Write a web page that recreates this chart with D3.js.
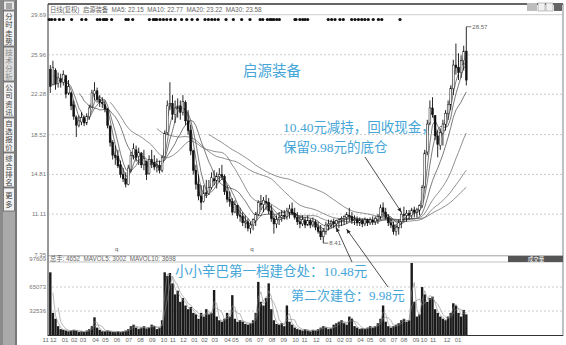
<!DOCTYPE html>
<html>
<head>
<meta charset="utf-8">
<script src="https://cdn.jsdelivr.net/npm/d3@7/dist/d3.min.js"></script>
<style>
  body { margin: 0; background: #fff; }
  svg { display: block; }
  text { font-family: "Liberation Sans", "Noto Sans CJK SC", sans-serif; }
  text.note { font-family: "Liberation Serif", "Noto Sans CJK SC", serif; }
</style>
</head>
<body>
<svg id="chart" width="566" height="345"></svg>
<script>
// ---- weekly quotes (price in yuan, volume in lots) ----
const openP = [
  24.6,23.2,24.5,23.3,23.7,23.4,24.0,22.4,22.4,21.3,
  20.1,19.4,19.7,20.1,19.6,20.2,21.1,22.3,22.6,21.8,
  21.5,21.3,20.9,19.3,17.8,16.6,16.5,15.7,14.8,14.4,
  13.9,15.3,16.6,17.1,16.5,16.8,15.7,16.0,14.9,16.2,
  15.9,15.5,15.6,15.2,16.5,18.7,21.3,21.4,20.4,21.0,
  21.2,20.6,21.5,19.8,18.9,17.0,15.2,13.9,12.8,12.3,
  13.1,13.0,13.6,14.4,14.2,14.6,14.8,14.6,13.2,12.5,
  12.3,11.3,11.9,11.0,10.9,10.3,10.4,9.8,10.1,10.5,
  11.1,12.1,12.0,12.3,12.2,11.4,10.7,10.2,10.6,10.8,
  11.0,10.9,11.3,11.6,11.2,10.8,10.4,10.2,10.5,10.1,
  10.5,10.1,10.4,9.9,9.5,9.0,9.5,10.1,10.2,10.4,
  10.2,10.4,10.6,10.7,10.8,11.0,10.9,10.5,10.6,10.3,
  10.5,10.2,10.6,10.3,10.5,10.4,10.6,10.9,11.7,11.3,
  10.8,10.3,10.1,9.5,9.8,10.4,11.1,11.0,11.2,11.0,
  11.5,11.3,11.5,11.9,13.7,16.9,19.6,21.0,20.3,18.4,
  17.5,18.6,19.5,20.5,21.3,22.8,25.0,24.8,24.3,25.4,
  26.3];
const highP = [
  25.0,25.4,24.7,24.3,24.2,24.5,24.1,23.6,22.5,21.7,
  20.3,20.3,20.6,20.3,20.5,21.3,22.7,23.4,22.9,22.2,
  22.0,21.7,21.0,19.4,18.0,17.5,17.1,16.1,15.4,15.0,
  15.7,16.9,17.7,17.5,17.3,16.9,17.1,16.1,16.6,17.1,
  16.6,16.3,16.1,16.6,18.9,21.7,23.4,22.2,21.7,21.9,
  21.7,22.2,21.7,20.8,19.4,17.1,15.7,14.8,13.8,13.8,
  14.3,14.3,15.0,15.2,15.0,15.4,15.7,14.8,13.8,13.2,
  12.6,12.4,12.0,11.7,11.3,11.0,10.7,10.4,10.7,11.3,
  12.4,12.9,12.7,12.9,12.6,12.0,11.0,11.0,11.3,11.5,
  11.5,11.7,12.0,12.2,11.7,11.3,10.9,11.0,10.8,11.0,
  10.7,10.8,10.6,10.4,10.1,9.8,10.4,10.6,10.6,10.7,
  10.6,10.7,10.9,11.0,11.3,11.7,11.3,11.0,10.9,10.8,
  10.7,10.8,10.7,10.8,10.9,10.9,11.1,12.0,12.2,11.7,
  11.1,10.7,10.4,10.2,10.6,11.3,11.8,11.5,11.5,11.7,
  11.8,11.7,12.0,13.8,17.1,19.9,21.7,22.0,20.3,18.9,
  19.1,19.9,20.8,21.7,23.1,25.5,27.0,26.1,25.9,26.8,
  28.57];
const lowP = [
  22.4,23.1,22.7,22.9,22.9,23.1,21.9,22.2,20.8,19.9,
  18.3,19.2,19.4,19.3,19.4,19.9,21.0,21.7,21.5,21.1,
  21.0,20.6,19.1,17.4,16.2,15.7,15.4,14.5,14.1,13.6,
  13.8,15.0,16.2,16.0,15.7,15.4,15.2,14.3,14.8,15.4,
  15.2,15.0,14.9,15.0,16.5,18.5,20.8,19.9,19.6,20.1,
  19.9,20.3,19.4,18.5,16.6,14.8,13.4,12.4,11.5,12.2,
  12.6,12.9,13.4,13.8,13.5,14.1,14.3,12.9,12.2,11.8,
  11.0,11.2,10.7,10.4,10.0,9.8,9.5,9.3,9.6,10.0,
  11.0,11.5,11.3,11.5,11.1,10.4,9.3,9.8,10.1,10.4,
  10.6,10.6,10.7,11.0,10.6,10.1,9.8,10.0,9.8,10.0,
  9.8,9.9,9.6,9.3,8.7,8.41,9.2,9.6,9.8,9.8,
  9.7,9.8,10.0,10.1,10.2,10.4,10.2,10.1,10.0,10.0,
  9.9,10.0,10.0,10.1,10.1,10.1,10.2,10.6,10.9,10.6,
  10.0,9.8,9.2,9.1,9.2,9.8,10.4,10.4,10.6,10.7,
  10.8,10.8,11.0,11.7,13.5,16.6,19.4,20.1,18.0,16.4,
  17.1,17.5,18.9,19.9,20.8,22.2,24.1,23.6,23.8,24.5,
  23.1];
const closeP = [
  23.0,24.8,23.2,23.8,23.4,24.1,22.3,23.0,21.2,20.2,
  19.4,19.8,20.1,19.6,20.2,21.0,22.4,22.6,21.8,21.5,
  21.4,20.9,19.4,17.8,16.6,16.4,15.6,14.8,14.4,13.9,
  15.4,16.6,17.2,16.4,16.9,15.7,16.3,14.8,16.2,15.9,
  15.5,15.6,15.2,16.4,18.6,21.2,21.4,20.4,21.0,21.2,
  20.6,21.6,19.8,18.9,17.0,15.2,13.9,12.8,12.2,13.1,
  13.0,13.6,14.5,14.2,14.6,14.8,14.6,13.2,12.5,12.3,
  11.3,12.0,11.0,10.9,10.3,10.4,9.8,10.1,10.6,11.1,
  12.2,12.0,12.4,12.2,11.4,10.7,10.2,10.6,10.8,11.0,
  10.9,11.4,11.6,11.2,10.8,10.4,10.2,10.6,10.1,10.5,
  10.1,10.4,9.9,9.5,9.0,9.5,10.1,10.2,10.4,10.2,
  10.5,10.6,10.7,10.9,11.1,10.9,10.5,10.6,10.3,10.5,
  10.2,10.6,10.3,10.6,10.4,10.7,10.9,11.7,11.3,10.8,
  10.3,10.1,9.5,9.9,10.4,11.1,11.0,11.2,11.0,11.5,
  11.3,11.5,11.9,13.6,16.8,19.5,21.0,20.4,18.4,17.6,
  18.7,19.5,20.5,21.3,22.8,25.0,24.8,24.3,25.4,26.3,
  23.6];
const volume = [
  85000,30000,22000,12000,8000,7000,6000,5000,6000,7000,
  6000,4000,5000,4000,6000,8000,12000,24000,10000,7000,
  5000,5000,6000,5000,4000,4000,5000,4000,5000,6000,
  8000,12000,14000,10000,8000,10000,12000,9000,10000,14000,
  12000,8000,10000,20000,85000,80000,84000,70000,55000,60000,
  45000,50000,40000,35000,38000,30000,28000,22000,30000,25000,
  35000,28000,30000,61000,25000,20000,18000,22000,30000,25000,
  54000,22000,18000,20000,18000,15000,14000,16000,20000,30000,
  72000,45000,40000,50000,70000,35000,20000,15000,14000,16000,
  12000,40000,18000,14000,10000,8000,7000,6000,8000,6000,
  5000,7000,6000,8000,10000,12000,10000,8000,9000,14000,
  16000,18000,20000,16000,14000,25000,22000,12000,10000,8000,
  9000,8000,10000,12000,10000,12000,16000,22000,40000,18000,
  12000,10000,12000,14000,16000,20000,22000,18000,20000,97609,
  45000,25000,28000,65000,55000,45000,50000,52000,35000,30000,
  25000,22000,20000,25000,30000,43000,40000,30000,25000,34000,
  28000];

// ---- axes ----
const priceTicks = [29.69, 25.96, 22.28, 18.52, 14.81, 11.11, 7.35];
const volTicks = [97609, 65073, 32536];
const monthLabels = ["11","12","01","02","03","04","05","06","07","08","09","10","11","12",
  "01","02","03","04","05","06","07","08","09","10","11","12",
  "01","02","03","04","05","06","07","08","09","10","11","12","01"];
const monthWeeks = [-1.3,1.65,6.15,9.7,13.1,17.9,21.7,26.2,30.7,35.2,39.7,44.2,47.6,51.7,
  56.0,59.8,63.8,68.7,71.7,76.8,81.3,85.8,90.3,94.8,98.3,102.8,
  107.6,112.1,115.3,119.8,123.5,128.3,132.7,136.5,141.2,144.2,147.7,153.1,157.3];

// information-mine markers along the top (week position)
const eventWeeks = [0.1,1.0,2.3,4.0,5.5,8.7,12.6,14.2,18.6,19.6,20.9,21.5,22.2,24.1,29.6,30.5,32.2,
  38.6,40.1,40.8,41.4,42.7,44.0,45.3,46.8,48.5,51.0,53.0,55.0,57.1,60.0,61.3,62.6,63.8,65.1,
  68.1,70.9,74.1,77.3,81.2,82.2,84.0,85.0,85.7,86.5,87.6,88.6,94.6,95.0,96.5,97.6,98.5,99.5,
  107.4,108.7,110.0,111.9,113.2,116.4,117.7,119.0,120.3,121.5,122.8,124.7,126.7,128.0,135.0];
// ex-rights markers
const exRightWeeks = [26.0, 78.0];

// moving-average windows (in bars)
const maWindows = [2, 4, 6, 12, 24, 42, 62];
const volMaWindows = [2, 4];

// header texts
const priceHeader = "日线(复权)  启源装备  MA5: 22.15  MA10: 22.77  MA20: 23.22  MA30: 23.58";
const volHeader = "总手: 4652  MAVOL5: 3002  MAVOL10: 3698";
const sideTabs = ["分时走势", "技术分析", "公司资讯", "自选报价", "综合排名", "更多"];

// annotations
const stockName = "启源装备";
const noteSell = ["10.40元减持，回收现金，", "保留9.98元的底仓"];
const noteBuy1 = "小小辛巴第一档建仓处：10.48元";
const noteBuy2 = "第二次建仓：9.98元";
const arrows = [
  { bar: 110, price: 9.85, tail: [352, 262] },
  { bar: 114, price: 9.7,  tail: [388, 287] },
  { bar: 135, price: 11.3, tail: [365, 157] }
];

// ---------------------------------------------------------------
const svg = d3.select("#chart");
const W = 566, H = 345;
const left = 48, right = 563;
const N = closeP.length;
const noteColor = "#46a6d8";

svg.append("rect").attr("width", W).attr("height", H).attr("fill", "#fff");

const x = d3.scaleLinear().domain([0, N]).range([49, 49 + 2.6 * N]);
const y = d3.scaleLinear().domain([7.35, 29.69]).range([254.5, 14.7]);
const yv = d3.scaleLinear().domain([0, 97609]).range([335, 263]);

// ---- side tab bar ----
const side = svg.append("g");
side.append("rect").attr("x", 0).attr("y", 0).attr("width", 17).attr("height", H).attr("fill", "#8a8a8a");
side.append("rect").attr("x", 3).attr("y", 0).attr("width", 12).attr("height", H).attr("fill", "#a9a9a9");
side.append("rect").attr("x", 3.5).attr("y", 1).attr("width", 11).attr("height", 9)
  .attr("fill", "#e6e6e6").attr("stroke", "#555").attr("stroke-width", 0.6);
side.append("path").attr("d", "M6,4h6M6,6h6M6,8h6").attr("stroke", "#444").attr("stroke-width", 0.8);
const tabTops = [11, 47, 82, 118, 153, 188];
const tabBots = [46, 81, 117, 152, 187, 211];
sideTabs.forEach((t, k) => {
  const y0 = tabTops[k], y1 = tabBots[k];
  side.append("rect").attr("x", 3.5).attr("y", y0).attr("width", 11).attr("height", y1 - y0)
    .attr("fill", k === 1 ? "#dedede" : "#f3f3f3").attr("stroke", "#555").attr("stroke-width", 0.7);
  const chars = Array.from(t);
  const step = 8.2;
  const start = y0 + (y1 - y0 - chars.length * step) / 2 + 7;
  chars.forEach((c, j) => {
    side.append("text").attr("x", 9).attr("y", start + j * step).attr("text-anchor", "middle")
      .attr("font-size", 7.4).attr("fill", k === 1 ? "#888" : "#444").text(c);
  });
});
side.append("line").attr("x1", 16).attr("x2", 16).attr("y1", 0).attr("y2", H)
  .attr("stroke", "#666").attr("stroke-width", 1);

// ---- frame ----
const frame = svg.append("g");
frame.append("line").attr("x1", left).attr("x2", right).attr("y1", 4).attr("y2", 4)
  .attr("stroke", "#333").attr("stroke-width", 1.4);
frame.append("line").attr("x1", left).attr("x2", left).attr("y1", 4).attr("y2", 336)
  .attr("stroke", "#333").attr("stroke-width", 1);
frame.append("line").attr("x1", right).attr("x2", right).attr("y1", 4).attr("y2", 336)
  .attr("stroke", "#666").attr("stroke-width", 0.8);
frame.append("line").attr("x1", left).attr("x2", right).attr("y1", 255.8).attr("y2", 255.8)
  .attr("stroke", "#777").attr("stroke-width", 0.7);
frame.append("line").attr("x1", left).attr("x2", right).attr("y1", 262).attr("y2", 262)
  .attr("stroke", "#999").attr("stroke-width", 0.6);
frame.append("line").attr("x1", left).attr("x2", right).attr("y1", 335.5).attr("y2", 335.5)
  .attr("stroke", "#333").attr("stroke-width", 1);

// buttons at the top-right
const btn = svg.append("g");
btn.append("rect").attr("x", 527).attr("y", 3).attr("width", 10).attr("height", 8).attr("fill", "#bdbdbd");
btn.append("rect").attr("x", 538).attr("y", 3).attr("width", 7).attr("height", 8).attr("fill", "#f0f0f0").attr("stroke", "#888").attr("stroke-width", 0.5);
btn.append("rect").attr("x", 546).attr("y", 3).attr("width", 7).attr("height", 8).attr("fill", "#f0f0f0").attr("stroke", "#888").attr("stroke-width", 0.5);
btn.append("rect").attr("x", 554).attr("y", 3).attr("width", 8).attr("height", 8).attr("fill", "#666");

// ---- price grid & labels ----
const grid = svg.append("g");
priceTicks.forEach(v => {
  if (v !== 7.35) {
    grid.append("line").attr("x1", left).attr("x2", right).attr("y1", y(v)).attr("y2", y(v))
      .attr("stroke", "#aaa").attr("stroke-width", 0.6).attr("stroke-dasharray", v === 29.69 ? null : "2,2");
  }
  grid.append("text").attr("x", 46).attr("y", y(v) + 2).attr("text-anchor", "end")
    .attr("font-size", 6).attr("fill", "#777").text(v.toFixed(2));
});
volTicks.forEach(v => {
  if (v !== 97609) {
    grid.append("line").attr("x1", left).attr("x2", right).attr("y1", yv(v)).attr("y2", yv(v))
      .attr("stroke", "#aaa").attr("stroke-width", 0.6).attr("stroke-dasharray", "2,2");
  }
  grid.append("text").attr("x", 46).attr("y", v === 97609 ? 261 : yv(v) + 2).attr("text-anchor", "end")
    .attr("font-size", 6).attr("fill", "#777").text(v);
});

// month labels
monthLabels.forEach((m, k) => {
  grid.append("text").attr("x", x(monthWeeks[k])).attr("y", 341.5).attr("text-anchor", "middle")
    .attr("font-size", 6).attr("fill", "#666").text(m);
});

// headers
svg.append("text").attr("x", 50).attr("y", 11.5).attr("font-size", 6.3).attr("fill", "#666")
  .style("white-space", "pre").text(priceHeader);
svg.append("text").attr("x", 50).attr("y", 260.8).attr("font-size", 6.3).attr("fill", "#666")
  .style("white-space", "pre").text(volHeader);
svg.append("rect").attr("x", 508).attr("y", 256).attr("width", 55).attr("height", 6).attr("fill", "#555");
svg.append("text").attr("x", 536).attr("y", 261.2).attr("text-anchor", "middle").attr("font-size", 5.5)
  .attr("fill", "#fff").text("成交量");

// ---- event dots ----
svg.append("g").selectAll("circle").data(eventWeeks).join("circle")
  .attr("cx", d => x(d)).attr("cy", 19.5).attr("r", 1.6).attr("fill", "#111");

// ---- moving averages ----
function sma(arr, n) {
  return arr.map((_, i) => i < n - 1 ? null : d3.mean(arr.slice(i - n + 1, i + 1)));
}
const maLine = d3.line().defined(d => d[1] != null).x(d => x(d[0] + 0.5)).y(d => y(d[1]));
maWindows.forEach((n, k) => {
  const vals = sma(closeP, n).map((v, i) => [i, v]);
  svg.append("path").attr("d", maLine(vals)).attr("fill", "none")
    .attr("stroke", k < 4 ? "#333" : "#555").attr("stroke-width", 0.65);
});

// ---- candles ----
const bars = d3.range(N);
const cg = svg.append("g");
cg.selectAll("line").data(bars).join("line")
  .attr("x1", i => x(i + 0.5)).attr("x2", i => x(i + 0.5))
  .attr("y1", i => y(highP[i])).attr("y2", i => y(lowP[i]))
  .attr("stroke", "#111").attr("stroke-width", 0.9);
cg.selectAll("rect").data(bars).join("rect")
  .attr("x", i => x(i + 0.5) - 0.9).attr("width", 1.8)
  .attr("y", i => y(Math.max(openP[i], closeP[i])))
  .attr("height", i => Math.max(0.8, Math.abs(y(openP[i]) - y(closeP[i]))))
  .attr("fill", i => closeP[i] >= openP[i] ? "#fff" : "#111")
  .attr("stroke", "#111").attr("stroke-width", 0.5);

// extreme markers
const iMax = d3.maxIndex(highP), iMin = d3.minIndex(lowP);
[[iMax, highP[iMax]], [iMin, lowP[iMin]]].forEach(([i, v]) => {
  const px = x(i + 0.5), py = y(v);
  svg.append("line").attr("x1", px).attr("x2", px + 5).attr("y1", py).attr("y2", py)
    .attr("stroke", "#333").attr("stroke-width", 0.7);
  svg.append("text").attr("x", px + 6).attr("y", py + 2).attr("font-size", 6).attr("fill", "#666")
    .text(v.toFixed(2));
});

// ex-rights markers
exRightWeeks.forEach(w => {
  svg.append("text").attr("x", x(w)).attr("y", 251).attr("text-anchor", "middle")
    .attr("font-size", 6).attr("fill", "#555").text("q");
});

// ---- volume ----
const vg = svg.append("g");
vg.selectAll("rect").data(bars).join("rect")
  .attr("x", i => x(i + 0.5) - 1.2).attr("width", 2.4)
  .attr("y", i => yv(volume[i])).attr("height", i => 335 - yv(volume[i]))
  .attr("fill", "#1a1a1a");
const volLine = d3.line().defined(d => d[1] != null).x(d => x(d[0] + 0.5)).y(d => yv(d[1]));
volMaWindows.forEach(n => {
  const vals = sma(volume, n).map((v, i) => [i, v]);
  vg.append("path").attr("d", volLine(vals)).attr("fill", "none")
    .attr("stroke", "#888").attr("stroke-width", 0.6);
});

// ---- annotations ----
svg.append("text").attr("class", "note").attr("x", 243).attr("y", 76).attr("font-size", 14.5)
  .attr("fill", noteColor).text(stockName);
noteSell.forEach((t, k) => {
  svg.append("text").attr("class", "note").attr("x", 283).attr("y", 132 + k * 20).attr("font-size", 13.5)
    .attr("fill", noteColor).text(t);
});
svg.append("text").attr("class", "note").attr("x", 175).attr("y", 276).attr("font-size", 13.5)
  .attr("fill", noteColor).text(noteBuy1);
svg.append("text").attr("class", "note").attr("x", 291).attr("y", 300).attr("font-size", 13)
  .attr("fill", noteColor).text(noteBuy2);

svg.append("defs").append("marker").attr("id", "ah").attr("viewBox", "0 0 10 10")
  .attr("refX", 9).attr("refY", 5).attr("markerWidth", 6).attr("markerHeight", 6)
  .attr("orient", "auto").append("path").attr("d", "M0,1L10,5L0,9Z").attr("fill", "#222");
arrows.forEach(a => {
  svg.append("line").attr("x1", a.tail[0]).attr("y1", a.tail[1])
    .attr("x2", x(a.bar + 0.5)).attr("y2", y(a.price))
    .attr("stroke", "#222").attr("stroke-width", 0.8).attr("marker-end", "url(#ah)");
});
</script>
</body>
</html>
